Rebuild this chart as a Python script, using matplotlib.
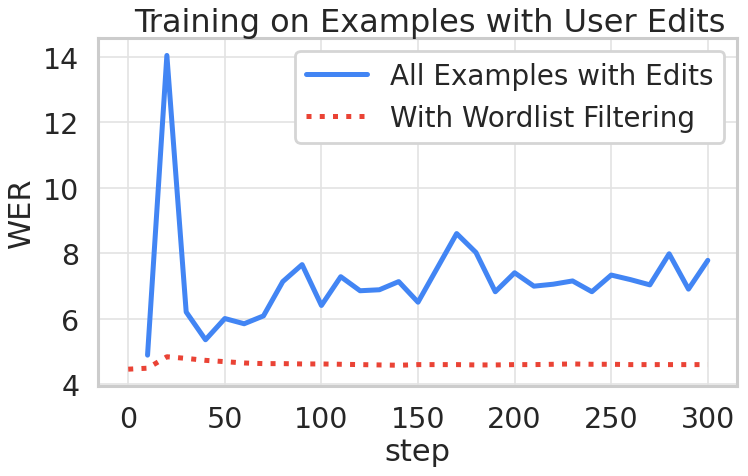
import matplotlib
matplotlib.use("Agg")
import matplotlib.pyplot as plt
import seaborn as sns

steps_all = [10, 20, 30, 40, 50, 60, 70, 80, 90, 100, 110, 120, 130, 140, 150,
             160, 170, 180, 190, 200, 210, 220, 230, 240, 250, 260, 270, 280, 290, 300]
wer_all = [4.88, 14.05, 6.2, 5.35, 6.0, 5.84, 6.08, 7.13, 7.65, 6.4, 7.28, 6.85, 6.88, 7.13, 6.5,
           7.55, 8.6, 8.02, 6.82, 7.4, 6.99, 7.05, 7.15, 6.82, 7.33, 7.19, 7.03, 7.98, 6.9, 7.78]

steps_filt = [0, 10, 20, 30, 40, 50, 60, 70, 80, 90, 100, 110, 120, 130, 140, 150,
              160, 170, 180, 190, 200, 210, 220, 230, 240, 250, 260, 270, 280, 290, 300]
wer_filt = [4.45, 4.48, 4.83, 4.78, 4.72, 4.68, 4.64, 4.62, 4.62, 4.61, 4.61, 4.60, 4.59, 4.58, 4.57, 4.59,
            4.59, 4.59, 4.58, 4.58, 4.59, 4.59, 4.60, 4.61, 4.60, 4.60, 4.59, 4.59, 4.59, 4.59, 4.59]

title = "Training on Examples with User Edits"
label_all = "All Examples with Edits"
label_filt = "With Wordlist Filtering"
xticks = [0, 50, 100, 150, 200, 250, 300]
yticks = [4, 6, 8, 10, 12, 14]

sns.set_theme(style="whitegrid", context="talk")
plt.rcParams['font.family'] = ['DejaVu Sans']

fig, ax = plt.subplots(figsize=(7.48, 4.77), dpi=100)
fig.subplots_adjust(left=0.1314, right=0.985, top=0.918, bottom=0.189)

ax.plot(steps_all, wer_all, color="#4285F4", linewidth=3.6, label=label_all,
        solid_capstyle="round", solid_joinstyle="round")
ax.plot(steps_filt, wer_filt, color="#EA4335", linewidth=3.6, linestyle=":", label=label_filt)

ax.set_title(title, fontsize=23, pad=5, x=0.52)
ax.set_xlabel("step", fontsize=22, labelpad=3)
ax.set_ylabel("WER", fontsize=22, labelpad=5)
ax.tick_params(labelsize=20.5, pad=13.5, length=0)
ax.set_xticks(xticks)
ax.set_yticks(yticks)
ax.set_xlim(-15.5, 315)
ax.set_ylim(3.94, 14.58)
ax.grid(True, color="#e3e3e3", linewidth=1.2)
for s in ax.spines.values():
    s.set_linewidth(2.2)
    s.set_color("#cccccc")
leg = ax.legend(loc="upper right", fontsize=20, handlelength=2.2,
                borderaxespad=0.45, framealpha=1)
leg.get_frame().set_edgecolor("#d5d5d5")
leg.get_frame().set_linewidth(2.0)

fig.savefig("out.png", dpi=100)
